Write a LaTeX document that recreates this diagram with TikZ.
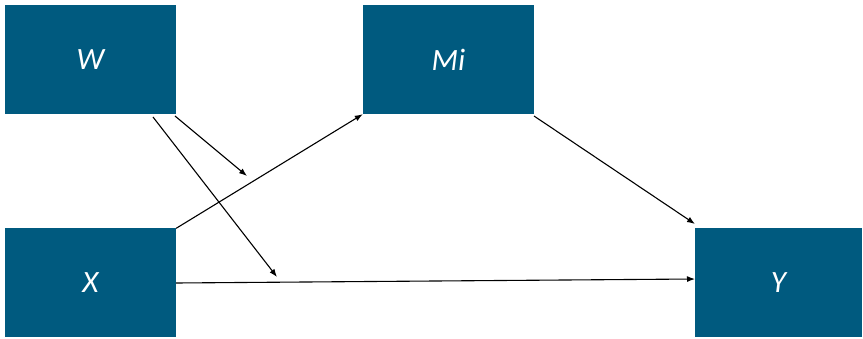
\documentclass[tikz,border=0pt]{standalone}
\usepackage{fontspec}
\setmainfont{Carlito}
\usetikzlibrary{arrows.meta}
\definecolor{boxblue}{HTML}{005A7F}
\begin{document}
\begin{tikzpicture}[x=1pt,y=-1pt,
  var/.style={fill=boxblue,draw=none,minimum width=171pt,minimum height=109pt,
    inner sep=0pt,text=white,font=\fontsize{31}{34}\selectfont\itshape},
  path/.style={draw=black,line width=1.1pt,-{Latex[length=8pt,width=6pt]}}]
  \useasboundingbox (0,0) rectangle (863,339);
  % variables
  \node[var] (W)  at (90.5,59.5)  {W};
  \node[var] (Mi) at (448.5,59.5) {Mi};
  \node[var] (X)  at (90.5,283)   {X};
  \node[var,minimum width=167pt] (Y) at (778.5,283) {Y};
  % free ends of the moderation arrows
  \coordinate (Wa) at (175,116);
  \coordinate (Wb) at (153,117);
  \coordinate (ma) at (247,176);
  \coordinate (mb) at (277,277);
  \coordinate (Yin) at (695,279);
  \coordinate (Ytop) at (695,224);
  \coordinate (Mout) at (534,116);
  % paths
  \draw[path] (X.north east) -- (Mi.south west);
  \draw[path] (X.east) -- (Yin);
  \draw[path] (Mout) -- (Ytop);
  \draw[path] (Wa) -- (ma);
  \draw[path] (Wb) -- (mb);
\end{tikzpicture}
\end{document}
